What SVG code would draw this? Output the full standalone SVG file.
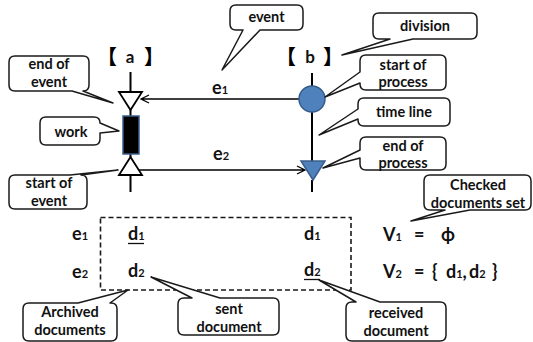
<svg xmlns="http://www.w3.org/2000/svg" width="533" height="342" viewBox="0 0 533 342">
<style>
.call{fill:#fff;stroke:#1a1a1a;stroke-width:1.5;stroke-linejoin:round}
.ct{font-family:Lato,"Liberation Sans",sans-serif;font-weight:bold;font-size:14.5px;fill:#111;text-anchor:middle}
.lb{font-family:Lato,"Liberation Sans",sans-serif;font-weight:bold;fill:#111}
.big{font-size:18px}
.sub{font-size:11px}
.tl{stroke:#000;stroke-width:2;fill:none}
.ar{stroke:#000;stroke-width:1.3;fill:none}
.br{font-family:"Noto Sans CJK SC",sans-serif;font-weight:900;font-size:20px;fill:#000}
</style>
<rect width="533" height="342" fill="#fff"/>
<g id="connectors">
<line class="tl" x1="130.5" y1="72" x2="130.5" y2="92"/>
<line class="tl" x1="130.5" y1="110" x2="130.5" y2="116"/>
<line class="tl" x1="130.5" y1="154" x2="130.5" y2="157"/>
<line class="tl" x1="130.5" y1="175" x2="130.5" y2="192"/>
<line class="tl" x1="312" y1="73" x2="312" y2="86"/>
<line class="tl" x1="312" y1="112" x2="312" y2="161"/>
<line class="tl" x1="312" y1="180" x2="312" y2="192"/>
<path class="ar" d="M299,99 H141 M149,95 L141,99 L149,103"/>
<path class="ar" d="M139,170 H305 M297,166 L305,170 L297,174"/>
<rect x="100.5" y="217.5" width="250.5" height="72.5" fill="none" stroke="#1a1a1a" stroke-width="1.6" stroke-dasharray="5,3"/>
</g>
<g id="lane-a">
<text class="br" x="97" y="64">【</text>
<text class="lb" x="130" y="63" font-size="17" text-anchor="middle">a</text>
<text class="br" x="144" y="64">】</text>
</g>
<g id="lane-b">
<text class="br" x="276" y="64">【</text>
<text class="lb" x="310" y="63" font-size="17" text-anchor="middle">b</text>
<text class="br" x="323" y="64">】</text>
</g>
<g id="end-of-event-mark"><polygon points="119,92 142,92 130.5,110" fill="#fff" stroke="#000" stroke-width="1.8"/></g>
<g id="work-mark"><rect x="123" y="116" width="16" height="38" fill="#000" stroke="#385d8a" stroke-width="1.5"/></g>
<g id="start-of-event-mark"><polygon points="130.5,157 142,175 119,175" fill="#fff" stroke="#000" stroke-width="1.8"/></g>
<g id="start-of-process-mark"><circle cx="312" cy="99" r="13" fill="#4f81bd" stroke="#385d8a" stroke-width="1.5"/></g>
<g id="end-of-process-mark"><polygon points="301,161 325,161 313,180" fill="#4f81bd" stroke="#385d8a" stroke-width="1.5"/></g>
<g id="label-e1"><text class="lb big" x="212" y="94">e<tspan class="sub">1</tspan></text></g>
<g id="label-e2"><text class="lb big" x="213" y="160">e<tspan class="sub">2</tspan></text></g>

<g id="callout-event">
<path class="call" d="M236,5 H297 Q303,5 303,11 V24 Q303,30 297,30 H260 L222,70 L243,30 H236 Q230,30 230,24 V11 Q230,5 236,5 Z"/>
<text class="ct" x="266.5" y="22">event</text>
</g>
<g id="callout-division">
<path class="call" d="M379,13 H471 Q477,13 477,19 V33 Q477,39 471,39 H413 L342,55 L390,39 H379 Q373,39 373,33 V19 Q373,13 379,13 Z"/>
<text class="ct" x="425" y="31">division</text>
</g>
<g id="callout-end-of-event">
<path class="call" d="M15,56 H83 Q89,56 89,62 V85 Q89,91 83,91 L113,103 L72,91 H15 Q9,91 9,85 V62 Q9,56 15,56 Z"/>
<text class="ct" x="49" y="69">end of</text>
<text class="ct" x="49" y="86.5">event</text>
</g>
<g id="callout-work">
<path class="call" d="M46,117 H94 Q100,117 100,123 L119,131 L100,133 V139 Q100,145 94,145 H46 Q40,145 40,139 V123 Q40,117 46,117 Z"/>
<text class="ct" x="71" y="137">work</text>
</g>
<g id="callout-start-of-event">
<path class="call" d="M15,175 H70 L118,170 L81,175 Q87,175 87,181 V203 Q87,209 81,209 H15 Q9,209 9,203 V181 Q9,175 15,175 Z"/>
<text class="ct" x="49" y="188">start of</text>
<text class="ct" x="49" y="205.5">event</text>
</g>
<g id="callout-start-of-process">
<path class="call" d="M366,55 H440 Q446,55 446,61 V84 Q446,90 440,90 H366 Q360,90 360,84 V83 L325,97 L360,72 V61 Q360,55 366,55 Z"/>
<text class="ct" x="403" y="69.5">start of</text>
<text class="ct" x="403" y="87">process</text>
</g>
<g id="callout-time-line">
<path class="call" d="M364,98 H444 Q450,98 450,104 V120 Q450,126 444,126 H364 Q358,126 358,120 V119 L319,135 L358,109 V104 Q358,98 364,98 Z"/>
<text class="ct" x="404" y="117">time line</text>
</g>
<g id="callout-end-of-process">
<path class="call" d="M366,137 H440 Q446,137 446,143 V164 Q446,170 440,170 H366 Q360,170 360,164 V158 L323,168 L360,150 V143 Q360,137 366,137 Z"/>
<text class="ct" x="403" y="150.5">end of</text>
<text class="ct" x="403" y="168">process</text>
</g>
<g id="callout-checked">
<path class="call" d="M430,175 H525 Q531,175 531,181 V204 Q531,210 525,210 H470 L411,221 L445,210 H430 Q424,210 424,204 V181 Q424,175 430,175 Z"/>
<text class="ct" x="478" y="190">Checked</text>
<text class="ct" x="478" y="207.5" font-size="14">documents set</text>
</g>
<g id="callout-archived">
<path class="call" d="M29,303 H78 L128,290 L110,303 H111 Q117,303 117,309 V335 Q117,341 111,341 H29 Q23,341 23,335 V309 Q23,303 29,303 Z"/>
<text class="ct" x="70" y="317">Archived</text>
<text class="ct" x="70" y="334.5">documents</text>
</g>
<g id="callout-sent">
<path class="call" d="M184,298 H192 L151,277 L220,298 H273 Q279,298 279,304 V329 Q279,335 273,335 H184 Q178,335 178,329 V304 Q178,298 184,298 Z"/>
<text class="ct" x="229" y="314">sent</text>
<text class="ct" x="229" y="331.5">document</text>
</g>
<g id="callout-received">
<path class="call" d="M352,302 H356 L319,280 L380,302 H440 Q446,302 446,308 V335 Q446,341 440,341 H352 Q346,341 346,335 V308 Q346,302 352,302 Z"/>
<text class="ct" x="396" y="318">received</text>
<text class="ct" x="396" y="335.5">document</text>
</g>

<g id="table">
<text class="lb big" x="72" y="240">e<tspan class="sub">1</tspan></text>
<text class="lb big" x="72" y="278">e<tspan class="sub">2</tspan></text>
<text class="lb big" x="128" y="240">d<tspan class="sub">1</tspan></text>
<line x1="128" y1="243.5" x2="144" y2="243.5" stroke="#111" stroke-width="1.3"/>
<text class="lb big" x="128" y="277">d<tspan class="sub">2</tspan></text>
<text class="lb big" x="304" y="240">d<tspan class="sub">1</tspan></text>
<text class="lb big" x="304" y="276">d<tspan class="sub">2</tspan></text>
<line x1="304" y1="279.5" x2="320" y2="279.5" stroke="#111" stroke-width="1.3"/>
</g>
<g id="sets">
<text class="lb big" x="383" y="241">V<tspan class="sub">1</tspan></text>
<text class="lb big" x="414" y="241">=</text>
<text class="lb big" x="441" y="241">ϕ</text>
<text class="lb big" x="383" y="278">V<tspan class="sub">2</tspan></text>
<text class="lb big" x="414" y="278">=</text>
<text class="lb big" x="432" y="278">{</text>
<text class="lb big" x="446" y="278">d<tspan class="sub">1</tspan>,</text>
<text class="lb big" x="469" y="278">d<tspan class="sub">2</tspan></text>
<text class="lb big" x="492" y="278">}</text>
</g>
</svg>
